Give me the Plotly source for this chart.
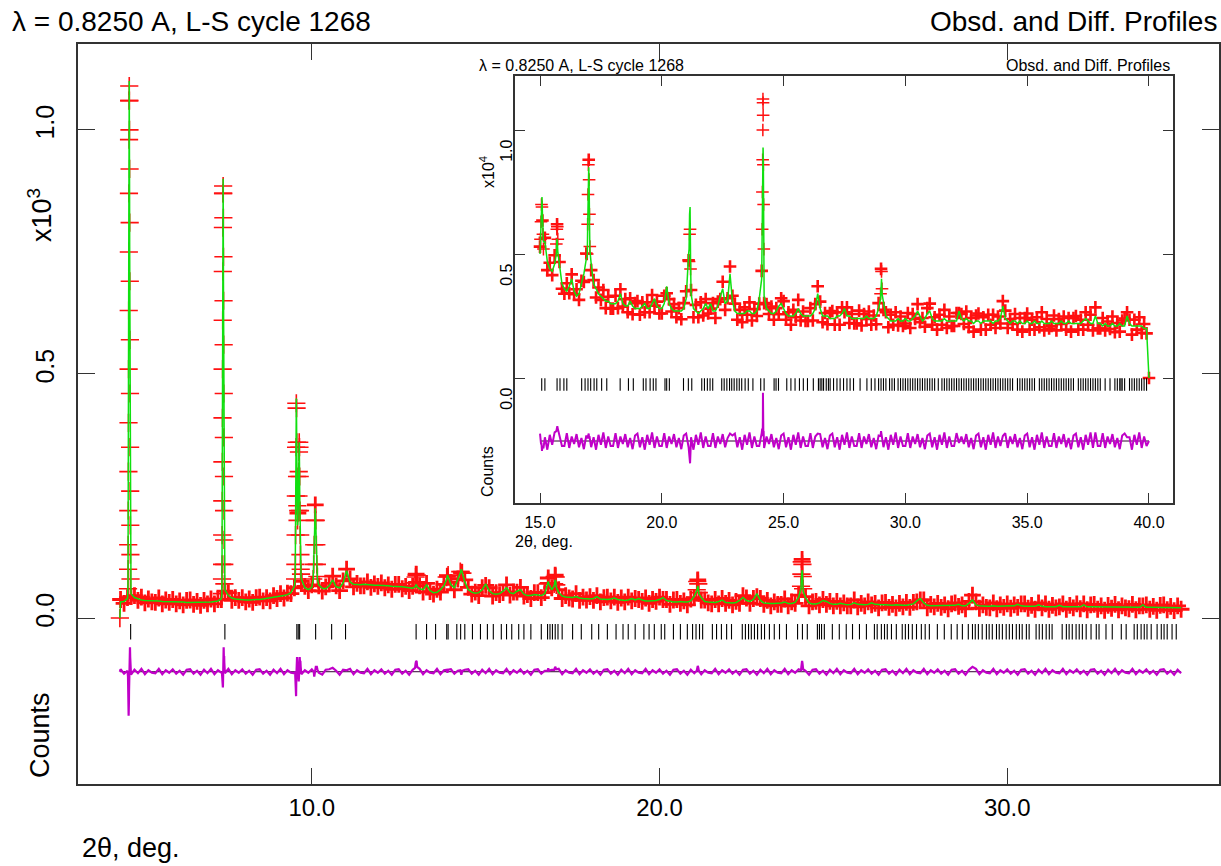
import numpy as np
import plotly.graph_objects as go

W, H = 1221, 866
FONT = "Liberation Sans, Arial, Helvetica, sans-serif"

# ---------------- main pattern (counts x10^3), uniform 2-theta scan ----------------
main_start, main_step = 4.5, 0.1
main_calc = [
    .033, .034, .040, .050, .042, .039, .037, .036, .036, .035,
    .035, .035, .034, .034, .034, .033, .033, .033, .033, .032,
    .032, .032, .032, .032, .032, .032, .033, .034, .035, .040,
    .058, .046, .041, .039, .038, .037, .037, .037, .038, .038,
    .038, .039, .040, .041, .042, .043, .044, .046, .048, .052,
    .065, .200, .080, .062, .058, .063, .225, .068, .061, .060,
    .066, .078, .064, .062, .072, .097, .074, .069, .068, .068,
    .069, .068, .068, .067, .067, .067, .066, .066, .065, .065,
    .064, .064, .063, .062, .061, .068, .060, .058, .068, .056,
    .052, .053, .058, .066, .088, .068, .062, .078, .100, .074,
    .058, .053, .051, .052, .058, .070, .056, .050, .049, .050,
    .055, .062, .052, .050, .055, .058, .049, .046, .046, .048,
    .047, .046, .050, .075, .058, .078, .052, .045, .043, .043,
    .042, .044, .041, .040, .039, .039, .040, .044, .039, .038,
    .038, .039, .041, .038, .037, .036, .037, .040, .037, .040,
    .037, .035, .035, .035, .036, .038, .042, .036, .034, .033,
    .033, .034, .033, .033, .035, .045, .066, .042, .034, .033,
    .032, .032, .034, .037, .032, .031, .031, .032, .036, .042,
    .036, .034, .038, .050, .036, .031, .030, .030, .030, .030,
    .031, .033, .030, .030, .032, .042, .098, .042, .031, .029,
    .029, .031, .036, .034, .030, .028, .028, .030, .028, .027,
    .028, .031, .028, .027, .027, .028, .031, .028, .027, .027,
    .027, .026, .026, .027, .026, .026, .026, .027, .029, .035,
    .040, .031, .026, .025, .025, .025, .026, .025, .025, .025,
    .026, .028, .025, .025, .030, .037, .027, .025, .024, .024,
    .024, .025, .024, .024, .024, .024, .024, .025, .028, .025,
    .024, .024, .024, .024, .027, .024, .023, .023, .023, .023,
    .026, .023, .023, .023, .023, .024, .023, .027, .023, .023,
    .023, .022, .023, .022, .022, .023, .022, .022, .022, .023,
    .022, .022, .022, .022, .027, .022, .022, .022, .022, .022,
    .022, .021, .022, .021, .021, .021,
]
main_obs = [
    .038, .030, .042, .044, .046, .036, .043, .031, .039, .033,
    .032, .041, .029, .037, .032, .038, .029, .035, .027, .036,
    .037, .028, .034, .026, .036, .029, .039, .029, .038, .038,
    .055, .052, .036, .042, .036, .042, .033, .039, .032, .042,
    .043, .035, .042, .035, .046, .040, .050, .041, .051, .050,
    .062, .215, .075, .065, .056, .068, .232, .066, .055, .064,
    .071, .086, .066, .056, .076, .100, .080, .064, .071, .066,
    .066, .074, .063, .070, .065, .072, .062, .068, .059, .069,
    .069, .060, .065, .056, .065, .090, .066, .053, .071, .054,
    .049, .059, .053, .069, .086, .073, .058, .080, .094, .078,
    .063, .049, .053, .046, .062, .067, .062, .045, .052, .048,
    .052, .068, .047, .053, .053, .063, .045, .048, .040, .052,
    .052, .042, .052, .082, .062, .088, .058, .040, .046, .041,
    .039, .050, .036, .043, .037, .044, .036, .046, .033, .042,
    .043, .035, .043, .032, .041, .033, .043, .035, .040, .038,
    .034, .041, .030, .038, .034, .043, .038, .038, .028, .037,
    .038, .030, .035, .027, .039, .042, .078, .037, .037, .031,
    .029, .038, .029, .040, .030, .036, .027, .034, .030, .046,
    .041, .030, .040, .044, .040, .028, .036, .025, .033, .028,
    .028, .039, .025, .033, .030, .047, .120, .044, .025, .033,
    .034, .027, .038, .028, .034, .025, .034, .025, .031, .025,
    .025, .037, .023, .030, .025, .033, .027, .030, .021, .031,
    .032, .022, .028, .021, .030, .023, .032, .022, .032, .033,
    .037, .037, .021, .028, .023, .030, .022, .027, .019, .029,
    .031, .024, .027, .019, .034, .047, .033, .020, .027, .022,
    .021, .031, .019, .027, .022, .029, .020, .027, .022, .029,
    .029, .020, .026, .018, .031, .021, .029, .018, .026, .021,
    .023, .029, .018, .026, .021, .029, .019, .029, .017, .027,
    .028, .018, .025, .016, .026, .020, .028, .017, .025, .021,
    .019, .028, .017, .025, .025, .027, .018, .024, .016, .026,
    .027, .017, .024, .015, .025, .018,
]
# finely stepped points through the sharp reflections (and the first point of the scan)
main_peak_tth = [
    4.48,
    4.714, 4.717, 4.720, 4.723, 4.726, 4.729, 4.732, 4.735, 4.738, 4.741, 4.744, 4.747, 4.750,
    4.753, 4.756, 4.759, 4.762, 4.765, 4.768, 4.771, 4.774, 4.777, 4.780, 4.783, 4.786,
    7.414, 7.417, 7.420, 7.423, 7.426, 7.429, 7.432, 7.435, 7.438, 7.441, 7.444, 7.447, 7.450,
    7.453, 7.456, 7.459, 7.462, 7.465, 7.468, 7.471, 7.474, 7.477, 7.480, 7.483, 7.486,
    9.520, 9.527, 9.534, 9.541, 9.548, 9.555, 9.562, 9.569, 9.576, 9.583, 9.590,
    9.610, 9.617, 9.624, 9.631, 9.638, 9.645, 9.652, 9.659, 9.666, 9.673, 9.680, 9.690,
    10.040, 10.055, 10.070, 10.085, 10.115, 10.130, 10.145, 10.160,
    12.970, 12.985, 13.015, 13.030, 13.880, 13.920, 14.270, 14.330,
    16.785, 16.815, 16.970, 16.985, 17.015, 17.030,
    21.070, 21.085, 21.115, 21.130,
    24.070, 24.080, 24.090, 24.110, 24.120, 24.130,
]
main_peak_obs = [
    0.0,
    .06, .10, .15, .22, .30, .40, .51, .63, .75, .87, .98, 1.06, 1.09,
    1.06, 1.00, .92, .81, .69, .57, .46, .35, .26, .19, .13, .08,
    .05, .08, .11, .17, .24, .32, .41, .51, .61, .71, .80, .87, .885,
    .87, .82, .74, .65, .56, .46, .37, .29, .22, .16, .11, .07,
    .08, .11, .17, .25, .35, .44, .43, .36, .29, .23, .20,
    .22, .25, .30, .34, .36, .35, .29, .22, .17, .13, .10, .09,
    .08, .11, .15, .20, .20, .15, .11, .085,
    .072, .084, .088, .074, .084, .088, .095, .092,
    .070, .072, .070, .085, .084, .068,
    .058, .075, .070, .052,
    .065, .090, .115, .110, .085, .060,
]
main_peak_calc = [
    0.0,
    .07, .12, .19, .28, .38, .49, .60, .71, .82, .93, 1.02, 1.08, 1.10,
    1.05, .97, .87, .76, .64, .52, .41, .31, .23, .16, .11, .07,
    .05, .09, .14, .20, .27, .35, .44, .54, .64, .74, .83, .89, .90,
    .84, .77, .69, .60, .51, .42, .34, .26, .19, .13, .09, .06,
    .08, .13, .20, .30, .40, .45, .40, .33, .26, .21, .19,
    .23, .27, .32, .35, .36, .32, .26, .20, .15, .11, .09, .085,
    .08, .11, .16, .20, .19, .14, .10, .08,
    .064, .067, .067, .064, .080, .084, .092, .090,
    .068, .070, .066, .077, .076, .063,
    .056, .064, .062, .050,
    .062, .080, .095, .092, .075, .055,
]
main_refl = [
    4.79, 7.50, 9.57, 9.61, 9.65, 10.11, 10.57, 10.97, 13.00, 13.30, 13.56, 13.88, 13.92,
    14.17, 14.28, 14.40, 14.62, 14.85, 15.05, 15.22, 15.45, 15.60, 15.75, 15.95, 16.10,
    16.30, 16.60, 16.78, 16.85, 16.92, 17.00, 17.08, 17.20, 17.50, 17.75, 18.05, 18.25,
    18.50, 18.75, 18.95, 19.10, 19.30, 19.55, 19.70, 19.85, 20.05, 20.15, 20.40, 20.60,
    20.80, 20.95, 21.05, 21.15, 21.24, 21.52, 21.64, 21.78, 21.93, 22.07, 22.38, 22.47,
    22.56, 22.64, 22.73, 22.82, 22.93, 23.02, 23.16, 23.30, 23.45, 23.65, 23.97, 24.11,
    24.25, 24.54, 24.60, 24.66, 24.74, 24.97, 25.17, 25.37, 25.55, 25.75, 25.95, 26.18,
    26.26, 26.38, 26.47, 26.55, 26.67, 26.81, 26.98, 27.07, 27.16, 27.27, 27.39, 27.53,
    27.64, 27.76, 27.99, 28.19, 28.39, 28.56, 28.71, 28.88, 29.00, 29.08, 29.17, 29.28,
    29.40, 29.48, 29.57, 29.69, 29.77, 29.86, 29.97, 30.06, 30.15, 30.26, 30.35, 30.43,
    30.55, 30.63, 30.83, 30.92, 31.01, 31.12, 31.21, 31.29, 31.58, 31.70, 31.78, 31.87,
    31.98, 32.07, 32.16, 32.27, 32.41, 32.56, 32.64, 32.84, 33.02, 33.28, 33.42, 33.65,
    33.74, 33.85, 33.94, 34.02, 34.14, 34.31, 34.43, 34.51, 34.60, 34.74, 34.86,
]
main_diff_offset = -0.11
main_refl_level = -0.028

# ---------------- inset pattern (counts x10^4) ----------------
inset_start, inset_step = 15.0, 0.1
inset_calc = [
    .50, .66, .55, .47, .44, .43, .46, .56, .45, .38,
    .36, .35, .37, .40, .35, .33, .34, .38, .42, .48,
    .85, .46, .38, .36, .34, .33, .32, .31, .31, .30,
    .30, .30, .31, .34, .30, .29, .29, .31, .29, .28,
    .28, .28, .29, .30, .28, .28, .30, .32, .29, .28,
    .28, .30, .37, .30, .28, .27, .27, .27, .27, .28,
    .32, .50, .34, .28, .27, .26, .27, .28, .30, .28,
    .30, .27, .27, .29, .33, .36, .30, .31, .42, .31,
    .27, .26, .26, .26, .26, .27, .27, .26, .26, .27,
    .32, .40, .33, .28, .27, .26, .26, .27, .29, .30,
    .28, .26, .25, .25, .25, .26, .28, .26, .25, .25,
    .25, .25, .26, .28, .34, .28, .25, .25, .25, .24,
    .24, .24, .25, .25, .26, .28, .25, .25, .24, .24,
    .24, .24, .24, .24, .25, .24, .24, .24, .25, .28,
    .40, .30, .25, .24, .23, .23, .23, .24, .23, .23,
    .24, .23, .23, .24, .25, .27, .25, .23, .24, .26,
    .27, .24, .23, .23, .23, .23, .24, .23, .23, .23,
    .23, .23, .27, .24, .23, .24, .23, .23, .22, .23,
    .23, .22, .23, .23, .23, .23, .22, .23, .23, .24,
    .29, .24, .23, .22, .23, .23, .22, .23, .22, .22,
    .23, .22, .22, .23, .22, .22, .23, .22, .22, .22,
    .23, .22, .22, .22, .23, .22, .22, .23, .22, .22,
    .22, .22, .22, .23, .24, .23, .22, .22, .25, .22,
    .22, .21, .22, .21, .21, .22, .21, .21, .22, .21,
    .21, .25, .22, .21, .21, .21, .21, .21, .20, .20,
    0.0,
]
inset_obs = [
    .530, .635, .565, .435, .465, .415, .495, .620, .468, .360,
    .340, .382, .342, .418, .338, .358, .315, .392, .387, .502,
    .880, .435, .395, .325, .365, .315, .355, .282, .328, .280,
    .280, .332, .282, .358, .288, .318, .265, .322, .257, .302,
    .310, .255, .305, .265, .305, .265, .335, .292, .308, .260,
    .260, .332, .342, .318, .268, .298, .245, .282, .237, .302,
    .350, .475, .355, .245, .295, .245, .305, .252, .318, .260,
    .280, .302, .242, .308, .318, .388, .275, .322, .450, .332,
    .300, .235, .275, .225, .285, .255, .305, .232, .278, .250,
    .300, .432, .302, .298, .258, .288, .235, .282, .257, .322,
    .310, .235, .265, .215, .275, .245, .315, .232, .268, .230,
    .230, .282, .232, .298, .370, .308, .225, .262, .217, .262,
    .270, .215, .265, .215, .285, .265, .285, .222, .258, .220,
    .220, .272, .212, .258, .238, .268, .215, .252, .217, .302,
    .440, .275, .265, .205, .255, .215, .265, .212, .248, .210,
    .220, .262, .202, .258, .238, .298, .225, .242, .207, .282,
    .300, .215, .245, .195, .255, .215, .275, .202, .248, .210,
    .210, .262, .262, .258, .218, .268, .205, .242, .187, .252,
    .260, .195, .245, .195, .255, .215, .255, .202, .248, .220,
    .310, .272, .202, .238, .218, .258, .195, .242, .187, .242,
    .260, .195, .235, .195, .245, .205, .265, .192, .238, .200,
    .210, .252, .192, .238, .218, .248, .195, .242, .187, .242,
    .250, .195, .235, .195, .265, .215, .255, .192, .285, .200,
    .200, .242, .192, .228, .198, .248, .185, .222, .187, .232,
    .240, .265, .235, .175, .235, .195, .245, .182, .218, .180,
    0.0,
]
inset_peak_tth = [
    15.02, 15.04, 15.06, 15.08, 15.12, 15.14,
    15.67, 15.69, 15.71, 15.73,
    16.94, 16.955, 16.97, 16.985, 17.015, 17.03, 17.045,
    21.12, 21.14, 21.16, 21.18,
    24.12, 24.13, 24.14, 24.148, 24.152, 24.156, 24.16, 24.17, 24.18, 24.19,
    28.98, 29.02, 29.04,
]
inset_peak_obs = [
    .56, .63, .70, .69, .58, .52,
    .54, .60, .61, .56,
    .50, .62, .74, .86, .80, .66, .53,
    .47, .58, .60, .44,
    .60, .75, .88, 1.00, 1.125, 1.11, 1.06, .86, .70, .52,
    .34, .43, .36,
]
inset_peak_calc = [
    .57, .64, .71, .73, .60, .55,
    .50, .55, .55, .51,
    .49, .60, .72, .83, .79, .64, .52,
    .52, .66, .69, .48,
    .55, .72, .86, .92, .93, .93, .92, .84, .66, .50,
    .32, .40, .34,
]
inset_refl = [
    15.07, 15.20, 15.70, 15.82, 15.98, 16.10, 16.71, 16.85, 16.97, 17.08, 17.22, 17.33,
    17.53, 17.74, 18.29, 18.63, 18.83, 19.24, 19.35, 19.52, 19.65, 19.76, 20.13, 20.20,
    20.31, 20.89, 21.09, 21.23, 21.64, 21.75, 21.87, 21.98, 22.09, 22.46, 22.56, 22.67,
    22.78, 22.87, 22.97, 23.08, 23.18, 23.28, 23.42, 23.55, 23.74, 24.06, 24.20, 24.61,
    24.69, 24.79, 25.13, 25.30, 25.47, 25.65, 25.81, 25.98, 26.22, 26.43, 26.50, 26.57,
    26.64, 26.75, 26.84, 26.91, 27.05, 27.19, 27.32, 27.46, 27.60, 27.73, 27.87, 28.14,
    28.42, 28.60, 28.75, 28.90, 29.00, 29.10, 29.20, 29.35, 29.45, 29.55, 29.70, 29.80,
    29.90, 30.00, 30.10, 30.20, 30.30, 30.40, 30.50, 30.60, 30.70, 30.80, 30.90, 31.00,
    31.10, 31.20, 31.35, 31.50, 31.60, 31.70, 31.80, 31.90, 32.00, 32.10, 32.20, 32.30,
    32.40, 32.50, 32.60, 32.70, 32.80, 32.90, 33.00, 33.10, 33.20, 33.30, 33.40, 33.50,
    33.60, 33.70, 33.80, 33.90, 34.00, 34.10, 34.20, 34.30, 34.40, 34.60, 34.70, 34.80,
    34.90, 35.00, 35.10, 35.20, 35.30, 35.50, 35.60, 35.70, 35.80, 35.90, 36.00, 36.10,
    36.20, 36.30, 36.40, 36.50, 36.60, 36.70, 36.80, 36.90, 37.10, 37.20, 37.30, 37.40,
    37.50, 37.60, 37.70, 37.80, 37.90, 38.00, 38.20, 38.40, 38.60, 38.70, 38.80, 38.85,
    38.90, 39.00, 39.20, 39.30, 39.40, 39.50, 39.60, 39.70, 39.80, 39.90,
]
inset_diff_offset = -0.254
inset_refl_level = -0.026

title_text = "\u03bb = 0.8250 A, L-S cycle 1268"
right_text = "Obsd. and Diff. Profiles"


def grid_x(start, step, n):
    return [round(start + i * step, 4) for i in range(n)]


def merged(gx, calc, obs, ptth, pobs, pcalc):
    n = min(len(calc), len(obs))
    rows = sorted(zip(gx[:n] + list(ptth), list(obs[:n]) + list(pobs),
                      list(calc[:n]) + list(pcalc)))
    x, o, c = (np.array(v, dtype=float) for v in zip(*rows))
    return x, o, c


main_gx = grid_x(main_start, main_step, len(main_obs))
inset_gx = grid_x(inset_start, inset_step, len(inset_obs))
mx, mo, mc = merged(main_gx, main_calc, main_obs, main_peak_tth, main_peak_obs, main_peak_calc)
ix, io, ic = merged(inset_gx, inset_calc, inset_obs, inset_peak_tth, inset_peak_obs,
                    inset_peak_calc)

RED = "#ff1010"
GREEN = "#10e010"
MAG = "#c000c8"

fig = go.Figure()


def add_panel(x, o, c, gx, gobs, ptth, pobs, refl, off, lvl, xa, ya,
              gsize, gwidth, psize, pwidth, tsize, dwidth):
    fig.add_trace(go.Scatter(x=[x.min(), x.max()], y=[off, off], mode="lines",
                             line=dict(color="#300030", width=1), xaxis=xa, yaxis=ya,
                             hoverinfo="skip"))
    fig.add_trace(go.Scatter(x=x, y=(o - c) + off, mode="lines",
                             line=dict(color=MAG, width=dwidth), xaxis=xa, yaxis=ya,
                             name="diff"))
    # observed points: coarse scan points and fine points through sharp peaks
    fig.add_trace(go.Scatter(x=gx, y=gobs, mode="markers",
                             marker=dict(symbol="cross-thin", size=gsize, color=RED,
                                         line=dict(color=RED, width=gwidth)),
                             xaxis=xa, yaxis=ya, name="obs"))
    fig.add_trace(go.Scatter(x=ptth, y=pobs, mode="markers",
                             marker=dict(symbol="cross-thin", size=psize, color=RED,
                                         line=dict(color=RED, width=pwidth)),
                             xaxis=xa, yaxis=ya, name="obs peaks"))
    fig.add_trace(go.Scatter(x=x, y=c, mode="lines",
                             line=dict(color=GREEN, width=1.5), xaxis=xa, yaxis=ya,
                             name="calc"))
    fig.add_trace(go.Scatter(x=refl, y=[lvl] * len(refl), mode="markers",
                             marker=dict(symbol="line-ns", size=tsize, color="black",
                                         line=dict(color="black", width=1.1)),
                             xaxis=xa, yaxis=ya, name="hkl"))


add_panel(mx, mo, mc, main_gx, main_obs, main_peak_tth, main_peak_obs, main_refl,
          main_diff_offset, main_refl_level, "x", "y", 12, 2.8, 13, 1.6, 11, 2.2)
add_panel(ix, io, ic, inset_gx, inset_obs, inset_peak_tth, inset_peak_obs, inset_refl,
          inset_diff_offset, inset_refl_level, "x2", "y2", 9, 2.6, 9, 1.5, 9, 2.0)


def px(xp):
    return xp / W


def py(yp):
    return 1 - yp / H


axis_common = dict(showgrid=False, zeroline=False, showline=True, linecolor="#333333",
                   linewidth=1.5, mirror="ticks", ticks="inside", tickcolor="#333333",
                   tickwidth=1.2)

fig.update_layout(
    width=W, height=H, margin=dict(l=0, r=0, t=0, b=0),
    paper_bgcolor="white", plot_bgcolor="white", showlegend=False,
    font=dict(family=FONT, color="black"),
    xaxis=dict(domain=[px(78), px(1219)], range=[3.276, 36.09], anchor="y",
               tickvals=[10, 20, 30], tickformat=".1f", ticklen=16,
               tickfont=dict(size=24), ticklabelstandoff=1, **axis_common),
    yaxis=dict(domain=[py(784), py(44)], range=[-0.340, 1.176], anchor="x",
               tickvals=[0, 0.5, 1.0], tickformat=".1f", ticklen=17, tickangle=-90,
               tickfont=dict(size=25), ticklabelstandoff=12, ticklabelshift=-4,
               **axis_common),
    xaxis2=dict(domain=[px(515), px(1173)], range=[13.973, 40.986], anchor="y2",
                tickvals=[15, 20, 25, 30, 35, 40], tickformat=".1f", ticklen=10,
                tickfont=dict(size=16), ticklabelstandoff=4, **axis_common),
    yaxis2=dict(domain=[py(503), py(76)], range=[-0.504, 1.218], anchor="x2",
                tickvals=[0, 0.5, 1.0], tickformat=".1f", ticklen=10, tickangle=-90,
                tickfont=dict(size=16), ticklabelstandoff=-5, ticklabelshift=23,
                **axis_common),
)

ann = []


def note(text, x, y, size, xanchor="left", angle=0):
    ann.append(dict(text=text, x=px(x), y=py(y), xref="paper", yref="paper",
                    showarrow=False, xanchor=xanchor, yanchor="middle",
                    textangle=angle, font=dict(size=size, family=FONT, color="black")))


note(title_text, 10, 22, 28)
note(right_text, 1219, 22, 28, xanchor="right")
note("x10<sup>3</sup>", 40, 215, 27, xanchor="center", angle=-90)
note("Counts", 40, 735, 27, xanchor="center", angle=-90)
note("2\u03b8, deg.", 80, 848, 27)
note(title_text, 477, 65, 16)
note(right_text, 1172, 65, 16, xanchor="right")
note("x10<sup>4</sup>", 487, 172, 16, xanchor="center", angle=-90)
note("Counts", 487, 472, 16, xanchor="center", angle=-90)
note("2\u03b8, deg.", 513, 541, 16)
fig.update_layout(annotations=ann)

fig.write_html("out.html", config={"displayModeBar": False},
               post_script="document.body.style.margin='0px';document.body.style.padding='0px';")
